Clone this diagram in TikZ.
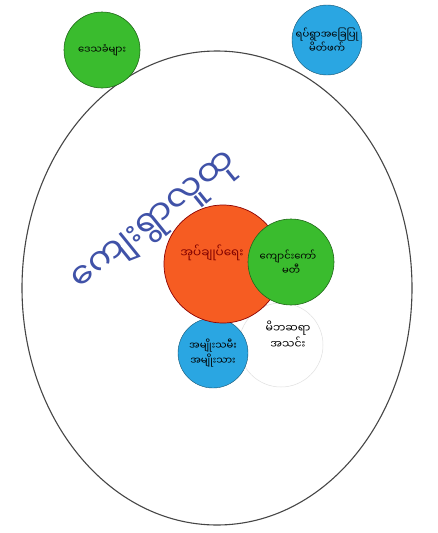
\documentclass[tikz,border=0pt]{standalone}
\usepackage{fontspec}
\newfontfamily\mmfont[Script=Myanmar]{Noto Sans Myanmar UI}
\usetikzlibrary{shapes.geometric}

\definecolor{leafgreen}{RGB}{58,188,46}
\definecolor{skyblue}{RGB}{42,166,226}
\definecolor{redorange}{RGB}{246,92,34}
\definecolor{penblue}{RGB}{64,82,168}
\definecolor{rimgray}{RGB}{70,70,70}

\tikzset{
  actor/.style={circle, align=center, inner sep=0pt, font=\mmfont\fontsize{10}{13}\selectfont},
  greenactor/.style={actor, fill=leafgreen, draw=leafgreen!55!black, line width=0.6pt},
  blueactor/.style={actor, fill=skyblue, draw=skyblue!50!black, line width=0.4pt},
  coreactor/.style={actor, fill=redorange, draw=red!55!black, line width=0.7pt, text=red!50!black},
  whiteactor/.style={actor, fill=white, draw=black!12, line width=0.5pt}
}

\begin{document}
\begin{tikzpicture}[x=1pt,y=-1pt]
  \useasboundingbox (0,0) rectangle (438,533);
  \fill[white] (0,0) rectangle (438,533);

  %village boundary
  \node[ellipse, draw=rimgray, line width=1.1pt, minimum width=390pt, minimum height=474pt] (village) at (217,288) {};
  \node[font=\mmfont\fontsize{35}{35}\selectfont, text=penblue, rotate=39, inner sep=0pt] (title) at (157,224) {ကျေးရွာလူထု};

  %outside actors
  \node[greenactor, minimum size=76pt] (locals) at (102,50) {ဒေသခံများ};
  \node[blueactor, minimum size=70pt] (partner) at (327,40) {ရပ်ရွာအခြေပြု\\မိတ်ဖက်};

  %inside actors
  \node[whiteactor, minimum size=84pt, font=\mmfont\fontsize{11}{16}\selectfont] (pta) at (281,345) {\hspace*{14pt}မိဘဆရာ\\\hspace*{14pt}အသင်း\\[4pt]};
  \node[blueactor, minimum size=70pt] (people) at (213,353) {အမျိုးသမီး\\အမျိုးသား};
  \node[coreactor, minimum size=118pt, font=\mmfont\fontsize{12}{14}\selectfont] (admin) at (223,264) {\hspace*{-22pt}အုပ်ချုပ်ရေး\\[12pt]};
  \node[greenactor, minimum size=86pt] (school) at (291,262) {\hspace*{-6pt}ကျောင်းကော်\\မတီ};
\end{tikzpicture}
\end{document}
